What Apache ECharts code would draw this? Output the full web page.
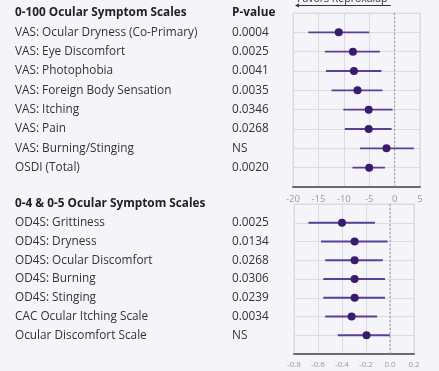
<!DOCTYPE html>
<html>
<head>
<meta charset="utf-8">
<script src="https://cdn.jsdelivr.net/npm/echarts@6/dist/echarts.min.js"></script>
<style>
  html, body { margin: 0; padding: 0; background: #f5f4f9; }
  #forest { width: 439px; height: 371px; }
</style>
</head>
<body>
<div id="forest"></div>
<script>
// top panel: 0-100 scales
var vasHeader = '0-100 Ocular Symptom Scales';
var vasNames = ['VAS: Ocular Dryness (Co-Primary)', 'VAS: Eye Discomfort', 'VAS: Photophobia',
  'VAS: Foreign Body Sensation', 'VAS: Itching', 'VAS: Pain', 'VAS: Burning/Stinging', 'OSDI (Total)'];
var vasP = ['0.0004', '0.0025', '0.0041', '0.0035', '0.0346', '0.0268', 'NS', '0.0020'];
var vasEst = [-11.0, -8.2, -8.0, -7.3, -5.1, -5.1, -1.6, -5.0];
var vasLo = [-17.0, -13.7, -13.5, -12.4, -10.1, -9.8, -6.8, -8.3];
var vasHi = [-5.0, -2.9, -2.6, -2.4, -0.4, -0.6, 3.8, -1.9];
var vasTicks = [-20, -15, -10, -5, 0, 5];

// bottom panel: 0-4 & 0-5 scales
var odsHeader = '0-4 & 0-5 Ocular Symptom Scales';
var odsNames = ['OD4S: Grittiness', 'OD4S: Dryness', 'OD4S: Ocular Discomfort', 'OD4S: Burning',
  'OD4S: Stinging', 'CAC Ocular Itching Scale', 'Ocular Discomfort Scale'];
var odsP = ['0.0025', '0.0134', '0.0268', '0.0306', '0.0239', '0.0034', 'NS'];
var odsEst = [-0.40, -0.295, -0.295, -0.295, -0.295, -0.32, -0.196];
var odsLo = [-0.68, -0.575, -0.54, -0.556, -0.556, -0.54, -0.435];
var odsHi = [-0.126, -0.02, -0.06, -0.042, -0.042, -0.107, 0.0];
var odsTicks = [-0.8, -0.6, -0.4, -0.2, 0.0, 0.2];

var chart = echarts.init(document.getElementById('forest'));
var FONT = '"Open Sans", "Noto Sans", sans-serif';
var FS = 11.8;

function rows(lo, hi, est) {
  var out = [];
  for (var i = 0; i < est.length; i++) {
    out.push([lo[i], hi[i], est[i], i + 1]);
  }
  return out;
}

function renderCI(params, api) {
  var y = api.value(3);
  var a = api.coord([api.value(0), y]);
  var b = api.coord([api.value(1), y]);
  var c = api.coord([api.value(2), y]);
  return {
    type: 'group',
    children: [
      { type: 'line', shape: { x1: a[0], y1: a[1], x2: b[0], y2: b[1] },
        style: { stroke: '#5a3f97', lineWidth: 1.8 } },
      { type: 'circle', shape: { cx: c[0], cy: c[1], r: 4 },
        style: { fill: '#3a1a6c' } }
    ]
  };
}

function labelAxis(idx, header, names, margin, isP) {
  return {
    type: 'category',
    gridIndex: idx,
    position: 'left',
    inverse: true,
    boundaryGap: false,
    data: [header].concat(names).concat(['']),
    axisLine: { show: false },
    axisTick: { show: false },
    splitLine: { show: !isP, lineStyle: { color: '#dcdbe0', width: 1 } },
    axisLabel: {
      align: 'left',
      margin: margin,
      fontFamily: FONT,
      fontSize: FS,
      color: '#333',
      interval: 0,
      formatter: function (v, i) {
        return i === 0 ? '{b|' + v + '}' : v;
      },
      rich: { b: { fontWeight: 'bold', fontSize: FS, color: '#222', fontFamily: FONT } }
    }
  };
}

function valueAxis(idx, ticks, fs, margin, digits) {
  return {
    type: 'value',
    gridIndex: idx,
    min: ticks[0],
    max: ticks[ticks.length - 1],
    interval: ticks[1] - ticks[0],
    axisLine: { show: true, onZero: false, lineStyle: { color: '#6b6b6b', width: 2 } },
    axisTick: { show: false },
    splitLine: { show: true, lineStyle: { color: '#dcdbe0', width: 1 } },
    axisLabel: {
      fontFamily: FONT,
      fontSize: fs,
      color: '#9a9a9a',
      margin: margin,
      formatter: function (v) { return v.toFixed(digits); }
    }
  };
}

option = {
  backgroundColor: '#f5f4f9',
  animation: false,
  grid: [
    { left: 293, right: 19, top: 13, height: 174, containLabel: false, outerBoundsMode: 'none',
      show: true, borderColor: '#dcdbe0', borderWidth: 1, backgroundColor: 'transparent' },
    { left: 294, right: 25, top: 204, height: 150, containLabel: false, outerBoundsMode: 'none',
      show: true, borderColor: '#dcdbe0', borderWidth: 1, backgroundColor: 'transparent' }
  ],
  xAxis: [
    valueAxis(0, vasTicks, 9.5, 7, 0),
    valueAxis(1, odsTicks, 8, 7, 1)
  ],
  yAxis: [
    labelAxis(0, vasHeader, vasNames, 278, false),
    labelAxis(0, 'P-value', vasP, 61, true),
    labelAxis(1, odsHeader, odsNames, 279, false),
    labelAxis(1, '', odsP, 62, true)
  ],
  graphic: [
    { type: 'text', left: 297, top: -6,
      style: { text: 'Favors Reproxalap', fontFamily: FONT, fontSize: 10.5, fill: '#333' } },
    { type: 'line', shape: { x1: 297, y1: 5.5, x2: 391, y2: 5.5 },
      style: { stroke: '#333', lineWidth: 1 } },
    { type: 'polygon', shape: { points: [[295, 5.5], [299, 3.5], [299, 7.5]] },
      style: { fill: '#333' } }
  ],
  series: [
    { type: 'line', xAxisIndex: 0, yAxisIndex: 0, data: [[0, 0], [0, vasNames.length + 1]],
      symbol: 'none', silent: true,
      lineStyle: { color: '#9a9a9a', width: 1, type: [2, 2] } },
    { type: 'line', xAxisIndex: 1, yAxisIndex: 2, data: [[0, 0], [0, odsNames.length + 1]],
      symbol: 'none', silent: true,
      lineStyle: { color: '#9a9a9a', width: 1, type: [2, 2] } },
    { type: 'custom', xAxisIndex: 0, yAxisIndex: 0, renderItem: renderCI,
      data: rows(vasLo, vasHi, vasEst) },
    { type: 'custom', xAxisIndex: 1, yAxisIndex: 2, renderItem: renderCI,
      data: rows(odsLo, odsHi, odsEst) }
  ]
};

if (option && typeof option === 'object') {
  chart.setOption(option, true);
}
</script>
</body>
</html>
